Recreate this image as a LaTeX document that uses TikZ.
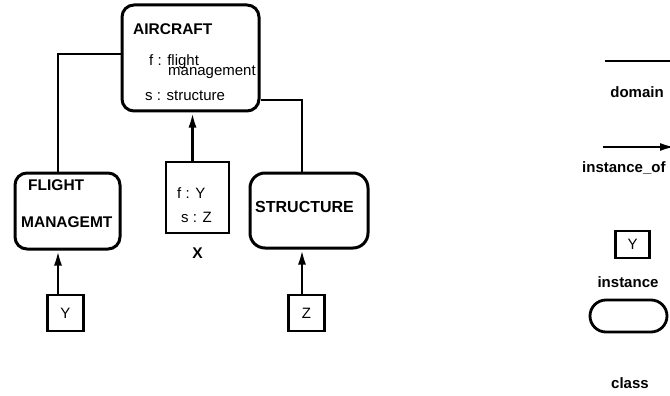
\documentclass[tikz,border=0pt]{standalone}
\usepackage{fontspec}
\setmainfont{Liberation Sans}
\usetikzlibrary{arrows.meta,positioning,calc}

\begin{document}
\begin{tikzpicture}[
  x=1pt,y=-1pt,
  node distance=13pt and 6pt,
  cls/.style={draw,line width=3pt,rounded corners=12pt,inner sep=0pt},
  inst/.style={draw,line width=2.8pt,inner sep=0pt,minimum size=36pt,
               font=\fontsize{15}{15}\selectfont},
  title/.style={font=\bfseries\fontsize{15.5}{15.5}\selectfont,inner sep=0pt,anchor=base west},
  slot/.style={font=\fontsize{15}{15}\selectfont,inner sep=0pt,anchor=base west},
  legend/.style={font=\bfseries\fontsize{15}{15}\selectfont,inner sep=0pt,anchor=base},
  link/.style={line width=2.6pt},
  arrow/.style={line width=2.6pt,-{Latex[length=15pt,width=8pt]}}
]
\useasboundingbox (0,0) rectangle (670,396);
% class boxes
\node[cls,minimum width=137pt,minimum height=106pt] (air) at (190.5,58) {};
\node[cls,minimum width=105pt,minimum height=76pt] (flight) at (67.5,211) {};
\node[cls,rounded corners=15pt,minimum width=118pt,minimum height=75pt] (struct) at (309,210.5) {};
\node[title] (airname) at (133,35) {AIRCRAFT};
\node[slot] (fslot) at (149,66) {f : flight};
\node[slot] (fslot2) at (168,76) {management};
\node[slot] (sslot) at (145,100) {s : structure};
\node[title] (flname) at (28,190) {FLIGHT};
\node[title] (flname2) at (21,227) {MANAGEMT};
\node[title,font=\bfseries\fontsize{16}{16}\selectfont] (stname) at (255,212) {STRUCTURE};
% instances
\node[inst,minimum width=63pt,minimum height=71pt] (xbox) at (197.5,197.5) {};
\node[slot] (xf) at (177,198) {f : Y};
\node[slot] (xs) at (181,222) {s : Z};
\node[title,anchor=north,below=of xbox] (xname) {X};
\node[inst] (ybox) at (65.5,313) {Y};
\node[inst] (zbox) at (306.5,313) {Z};
% domain links
\coordinate (lbend) at (58,54);
\coordinate (rbend) at (302,100);
\draw[link] (air.west |- lbend) -- (lbend) -- (lbend |- flight.north);
\draw[link] (air.east |- rbend) -- (rbend) -- (rbend |- struct.north);
% instance_of links
\draw[arrow] ([xshift=-5pt]xbox.north) -- ([xshift=-5pt]xbox.north |- air.south);
\draw[arrow] (ybox.north -| lbend) -- (lbend |- flight.south);
\draw[arrow] (zbox.north -| rbend) -- (rbend |- struct.south);
% legend
\coordinate (dom0) at (605,61);
\coordinate (dom1) at (690,61);
\draw[link] (dom0) -- (dom1);
\node[legend] (domtxt) at (637,98) {domain};
\coordinate (ins0) at (603,147);
\coordinate (ins1) at (675,147);
\draw[arrow] (ins0) -- (ins1);
\node[legend,anchor=base west] (instxt) at (582,172) {instance\_of};
\node[inst,minimum width=34pt,minimum height=27pt] (legy) at (632.5,244.5) {Y};
\node[legend] (legytxt) at (628,287) {instance};
\node[draw,line width=2.8pt,rounded corners=16pt,minimum width=77pt,
      minimum height=32pt] (legcls) at (628.5,316) {};
\node[legend] (legclstxt) at (630,388) {class};
\end{tikzpicture}
\end{document}
